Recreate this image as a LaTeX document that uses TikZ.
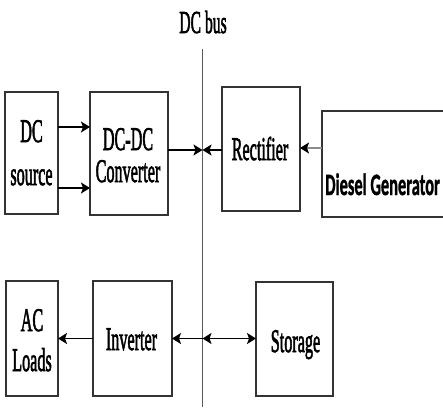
\documentclass[tikz,border=0pt]{standalone}
\usepackage{fontspec}
\setmainfont{Liberation Serif}
\newfontfamily\heavyserif{Liberation Serif}[FakeBold=2.5]
\newfontfamily\dgfont{Carlito Bold}[FakeBold=1.5]
\usetikzlibrary{arrows.meta}
\newcommand\sqz[1]{\scalebox{0.49}[1]{#1}}
\begin{document}
\begin{tikzpicture}[x=1pt,y=-1pt,
  box/.style 2 args={draw=black!80,line width=1.3pt,fill=none,inner sep=0pt,outer sep=0pt,minimum width=#1,minimum height=#2},
  lbl/.style={inner sep=0pt,anchor=base,font=\heavyserif\fontsize{33}{40}\selectfont},
  arr/.style={line width=1.5pt,-{Stealth[length=9pt,width=11pt,inset=2pt]}},
  darr/.style={line width=1.5pt,{Stealth[length=9pt,width=11pt,inset=2pt]}-{Stealth[length=9pt,width=11pt,inset=2pt]}},
  busline/.style={draw=black!65,line width=1pt}]
\useasboundingbox (0,0) rectangle (443,407);
\begin{scope}
\clip (0,0) rectangle (443,407);
% bus
\coordinate (bt) at (202.5,49);
\coordinate (bb) at (202.5,407);
\draw[busline] (bt) -- (bb);
\node[lbl,font=\heavyserif\fontsize{32}{38}\selectfont] (bustxt) at (203,33) {\sqz{DC bus}};
% boxes
\node[box={53pt}{122pt}] (src) at (31.5,153) {};
\node[box={78pt}{123pt}] (conv) at (129,153.5) {};
\node[box={78pt}{124pt}] (rect) at (261,149) {};
\node[box={158pt}{106pt}] (dg) at (401,164) {};
\node[box={52pt}{115pt}] (ac) at (32,338.5) {};
\node[box={79pt}{115pt}] (inv) at (132.5,338.5) {};
\node[box={77pt}{114pt}] (sto) at (294.5,339) {};
% labels
\node[lbl,font=\heavyserif\fontsize{33}{43}\selectfont] (srct) at (31.5,142) {\sqz{\begin{tabular}[t]{@{}c@{}}DC\\source\end{tabular}}};
\node[lbl,font=\heavyserif\fontsize{33}{32}\selectfont] (convt) at (128,150) {\sqz{\begin{tabular}[t]{@{}c@{}}DC-DC\\Converter\end{tabular}}};
\node[lbl] (rectt) at (260,160) {\sqz{Rectifier}};
\node[inner sep=0pt,anchor=base west,font=\dgfont\fontsize{31}{36}\selectfont] (dgt) at (325,195) {\scalebox{0.53}[1]{Diesel Generator}};
\node[lbl,font=\heavyserif\fontsize{33}{40}\selectfont] (act) at (32,331) {\sqz{\begin{tabular}[t]{@{}c@{}}AC\\Loads\end{tabular}}};
\node[lbl] (invt) at (131.5,350) {\sqz{Inverter}};
\node[lbl] (stot) at (295.5,352) {\sqz{Storage}};
% helper rows
\coordinate (r127) at (0,127);
\coordinate (r188) at (0,188);
\coordinate (r150) at (0,150);
\coordinate (r148) at (0,148);
\coordinate (r338) at (0,338.5);
% arrows
\draw[arr] (src.east |- r127) -- (conv.west |- r127);
\draw[arr] (src.east |- r188) -- (conv.west |- r188);
\draw[arr] (conv.east |- r150) -- (bt |- r150);
\draw[arr] (rect.west |- r150) -- (bt |- r150);
\draw[line width=1.5pt,draw=black!45,-{Stealth[length=9pt,width=11pt,inset=2pt,color=black]}] (dg.west |- r148) -- (rect.east |- r148);
\draw[arr] (bt |- r338) -- (inv.east |- r338);
\draw[arr] (inv.west |- r338) -- (ac.east |- r338);
\draw[darr] (bt |- r338) -- (sto.west |- r338);
\end{scope}
\end{tikzpicture}
\end{document}
